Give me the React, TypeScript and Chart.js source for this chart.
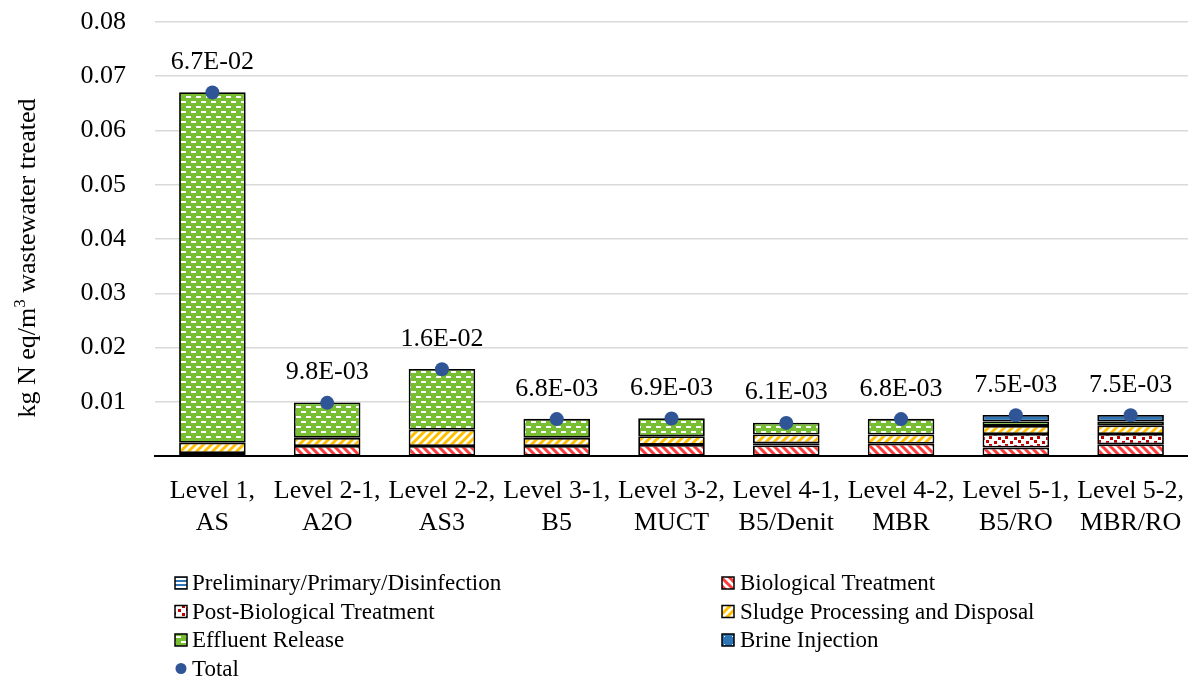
import React, { useEffect, useRef } from "react";
import { Chart, registerables } from "chart.js";

Chart.register(...registerables);

const categories: string[][] = [
  ["Level 1,", "AS"],
  ["Level 2-1,", "A2O"],
  ["Level 2-2,", "AS3"],
  ["Level 3-1,", "B5"],
  ["Level 3-2,", "MUCT"],
  ["Level 4-1,", "B5/Denit"],
  ["Level 4-2,", "MBR"],
  ["Level 5-1,", "B5/RO"],
  ["Level 5-2,", "MBR/RO"],
];

const preliminary = [0.00005, 0.00005, 0.00005, 0.00005, 0.00005, 0.00005, 0.00005, 0.00005, 0.00005];
const biological = [0.0005, 0.0018, 0.0018, 0.0018, 0.002, 0.0019, 0.0022, 0.0015, 0.0021];
const postBiological = [0, 0, 0, 0, 0, 0.0004, 0, 0.0025, 0.0019];
const sludge = [0.0019, 0.0015, 0.003, 0.0015, 0.0016, 0.0016, 0.0017, 0.0015, 0.0016];
const effluent = [0.0646, 0.0065, 0.0112, 0.0035, 0.0033, 0.0022, 0.0029, 0.0008, 0.0007];
const brine = [0, 0, 0, 0, 0, 0, 0, 0.0012, 0.0012];
const totals = [0.067, 0.0098, 0.016, 0.0068, 0.0069, 0.0061, 0.0068, 0.0075, 0.0075];

const yTicks = [0, 0.01, 0.02, 0.03, 0.04, 0.05, 0.06, 0.07, 0.08];

const seriesNames = [
  "Preliminary/Primary/Disinfection",
  "Biological Treatment",
  "Post-Biological Treatment",
  "Sludge Processing and Disposal",
  "Effluent Release",
  "Brine Injection",
  "Total",
];

const FONT = "'Liberation Serif', 'Times New Roman', serif";

function makeTile(w: number, h: number, draw: (c: CanvasRenderingContext2D) => void) {
  const cv = document.createElement("canvas");
  cv.width = w;
  cv.height = h;
  const c = cv.getContext("2d")!;
  draw(c);
  return cv;
}

function makePatterns() {
  return {
    prelim: makeTile(4, 4, (c) => {
      c.fillStyle = "#ffffff";
      c.fillRect(0, 0, 4, 4);
      c.fillStyle = "#2E75B6";
      c.fillRect(0, 0, 4, 2);
    }),
    bio: makeTile(8, 8, (c) => {
      c.fillStyle = "#ffffff";
      c.fillRect(0, 0, 8, 8);
      c.strokeStyle = "#FF3B3B";
      c.lineWidth = 3;
      c.beginPath();
      c.moveTo(-2, -2);
      c.lineTo(10, 10);
      c.moveTo(-2, 6);
      c.lineTo(2, 10);
      c.moveTo(6, -2);
      c.lineTo(10, 2);
      c.stroke();
    }),
    post: makeTile(16, 8, (c) => {
      c.fillStyle = "#ffffff";
      c.fillRect(0, 0, 16, 8);
      c.fillStyle = "#C00000";
      c.fillRect(2, 1, 3, 3);
      c.fillRect(10, 0, 3, 3);
      c.fillRect(6, 5, 3, 3);
      c.fillRect(13, 4, 3, 3);
    }),
    sludge: makeTile(8, 8, (c) => {
      c.fillStyle = "#ffffff";
      c.fillRect(0, 0, 8, 8);
      c.strokeStyle = "#FFC000";
      c.lineWidth = 3;
      c.beginPath();
      c.moveTo(-2, 10);
      c.lineTo(10, -2);
      c.moveTo(-2, 2);
      c.lineTo(2, -2);
      c.moveTo(6, 10);
      c.lineTo(10, 6);
      c.stroke();
    }),
    effluent: makeTile(10, 10, (c) => {
      c.fillStyle = "#78BE33";
      c.fillRect(0, 0, 10, 10);
      c.fillStyle = "#ffffff";
      c.fillRect(1, 1, 5, 2);
      c.fillRect(6, 6, 4, 2);
      c.fillRect(0, 6, 1, 2);
    }),
    brine: makeTile(8, 8, (c) => {
      c.fillStyle = "#2E75B6";
      c.fillRect(0, 0, 8, 8);
      c.fillStyle = "#ffffff";
      c.fillRect(4, 4, 1, 1);
    }),
  };
}

function fmtSci(v: number): string {
  const [m, e] = v.toExponential(1).split("e");
  const n = parseInt(e, 10);
  return m + "E" + (n < 0 ? "-" : "+") + String(Math.abs(n)).padStart(2, "0");
}

export default function App() {
  const ref = useRef<HTMLCanvasElement | null>(null);

  useEffect(() => {
    const canvas = ref.current!;
    const ctx = canvas.getContext("2d")!;
    const tiles = makePatterns();
    const pat = (t: HTMLCanvasElement) => ctx.createPattern(t, "repeat")!;
    const fills = [
      pat(tiles.prelim),
      pat(tiles.bio),
      pat(tiles.post),
      pat(tiles.sludge),
      pat(tiles.effluent),
      pat(tiles.brine),
    ];
    const series = [preliminary, biological, postBiological, sludge, effluent, brine];

    const barDatasets = series.map((data, i) => ({
      type: "bar" as const,
      label: seriesNames[i],
      data,
      backgroundColor: fills[i],
      borderColor: "#000000",
      borderWidth: 1.8,
      borderSkipped: false as const,
      barPercentage: 0.58,
      categoryPercentage: 1,
      order: 2,
    }));

    const totalDataset = {
      type: "line" as const,
      label: seriesNames[6],
      data: totals,
      showLine: false,
      pointRadius: 7,
      pointHoverRadius: 7,
      pointBackgroundColor: "#2F5597",
      pointBorderColor: "#2F5597",
      pointBorderWidth: 0,
      order: 0,
    };

    const labelPlugin = {
      id: "customDraw",
      afterDatasetsDraw(chart: any) {
        const c = chart.ctx;
        const meta = chart.getDatasetMeta(6);
        c.save();
        c.fillStyle = "#000000";
        c.font = `26px ${FONT}`;
        c.textAlign = "center";
        c.textBaseline = "alphabetic";
        meta.data.forEach((pt: any, i: number) => {
          c.fillText(fmtSci(totals[i]), pt.x, pt.y - 23.5);
        });
        c.restore();
      },
      afterDraw(chart: any) {
        const c = chart.ctx;
        c.save();
        const mainFont = `26px ${FONT}`;
        const supFont = `17px ${FONT}`;
        const p1 = "kg N eq/m";
        const p2 = "3";
        const p3 = " wastewater treated";
        c.font = mainFont;
        const w1 = c.measureText(p1).width;
        const w3 = c.measureText(p3).width;
        c.font = supFont;
        const w2 = c.measureText(p2).width;
        const total = w1 + w2 + w3;
        c.translate(35, 258);
        c.rotate(-Math.PI / 2);
        c.fillStyle = "#000000";
        c.textBaseline = "alphabetic";
        c.textAlign = "left";
        let x = -total / 2;
        c.font = mainFont;
        c.fillText(p1, x, 0);
        x += w1;
        c.font = supFont;
        c.fillText(p2, x, -10);
        x += w2;
        c.font = mainFont;
        c.fillText(p3, x, 0);
        c.restore();

        c.save();
        c.font = `23px ${FONT}`;
        c.textBaseline = "middle";
        c.textAlign = "left";
        const rows = [583, 611.5, 640, 668.5];
        const cols = [
          { sx: 175, tx: 192 },
          { sx: 722, tx: 740 },
        ];
        [0, 1, 2, 3, 4, 5].forEach((idx) => {
          const col = cols[idx % 2];
          const y = rows[Math.floor(idx / 2)];
          c.fillStyle = fills[idx];
          c.fillRect(col.sx, y - 6, 12, 12);
          c.strokeStyle = "#000000";
          c.lineWidth = 1.5;
          c.strokeRect(col.sx, y - 6, 12, 12);
          c.fillStyle = "#000000";
          c.fillText(seriesNames[idx], col.tx, y + 1);
        });
        c.fillStyle = "#2F5597";
        c.beginPath();
        c.arc(181, rows[3], 5.5, 0, Math.PI * 2);
        c.fill();
        c.fillStyle = "#000000";
        c.fillText(seriesNames[6], 192, rows[3] + 1);
        c.restore();
      },
    };

    const chart = new Chart(ctx, {
      type: "bar",
      data: {
        labels: categories,
        datasets: [...barDatasets, totalDataset] as any,
      },
      options: {
        responsive: false,
        animation: false,
        devicePixelRatio: 1,
        layout: { autoPadding: false, padding: { top: 22, right: 0, bottom: 145, left: 0 } },
        plugins: {
          legend: { display: false },
          tooltip: { enabled: false },
          title: { display: false },
        },
        scales: {
          x: {
            stacked: true,
            grid: {
              display: true,
              color: "rgba(0,0,0,0)",
              drawOnChartArea: false,
              drawTicks: true,
              tickLength: 20,
              tickColor: "rgba(0,0,0,0)",
            },
            border: { display: true, color: "#000000", width: 2 },
            ticks: {
              color: "#000000",
              font: { family: FONT, size: 26 },
              padding: 0,
              maxRotation: 0,
              autoSkip: false,
            },
            afterFit: (s: any) => {
              s.height = 80;
            },
          },
          y: {
            stacked: true,
            min: 0,
            max: 0.08,
            afterBuildTicks: (s: any) => {
              s.ticks = yTicks.map((v) => ({ value: v }));
            },
            grid: {
              color: "#d9d9d9",
              lineWidth: 1.5,
              drawTicks: true,
              tickLength: 26,
              tickColor: "rgba(0,0,0,0)",
            },
            border: { display: false },
            ticks: {
              color: "#000000",
              font: { family: FONT, size: 26 },
              padding: 3,
              callback: (v: any) => (Number(v) === 0 ? "" : Number(v).toFixed(2)),
            },
            afterFit: (s: any) => {
              s.width = 155;
            },
          },
        },
      },
      plugins: [labelPlugin],
    });

    return () => chart.destroy();
  }, []);

  return (
    <div style={{ position: "absolute", left: 0, top: 0, width: 1188, height: 681, background: "#ffffff" }}>
      <canvas ref={ref} width={1188} height={681} style={{ display: "block" }} />
    </div>
  );
}
